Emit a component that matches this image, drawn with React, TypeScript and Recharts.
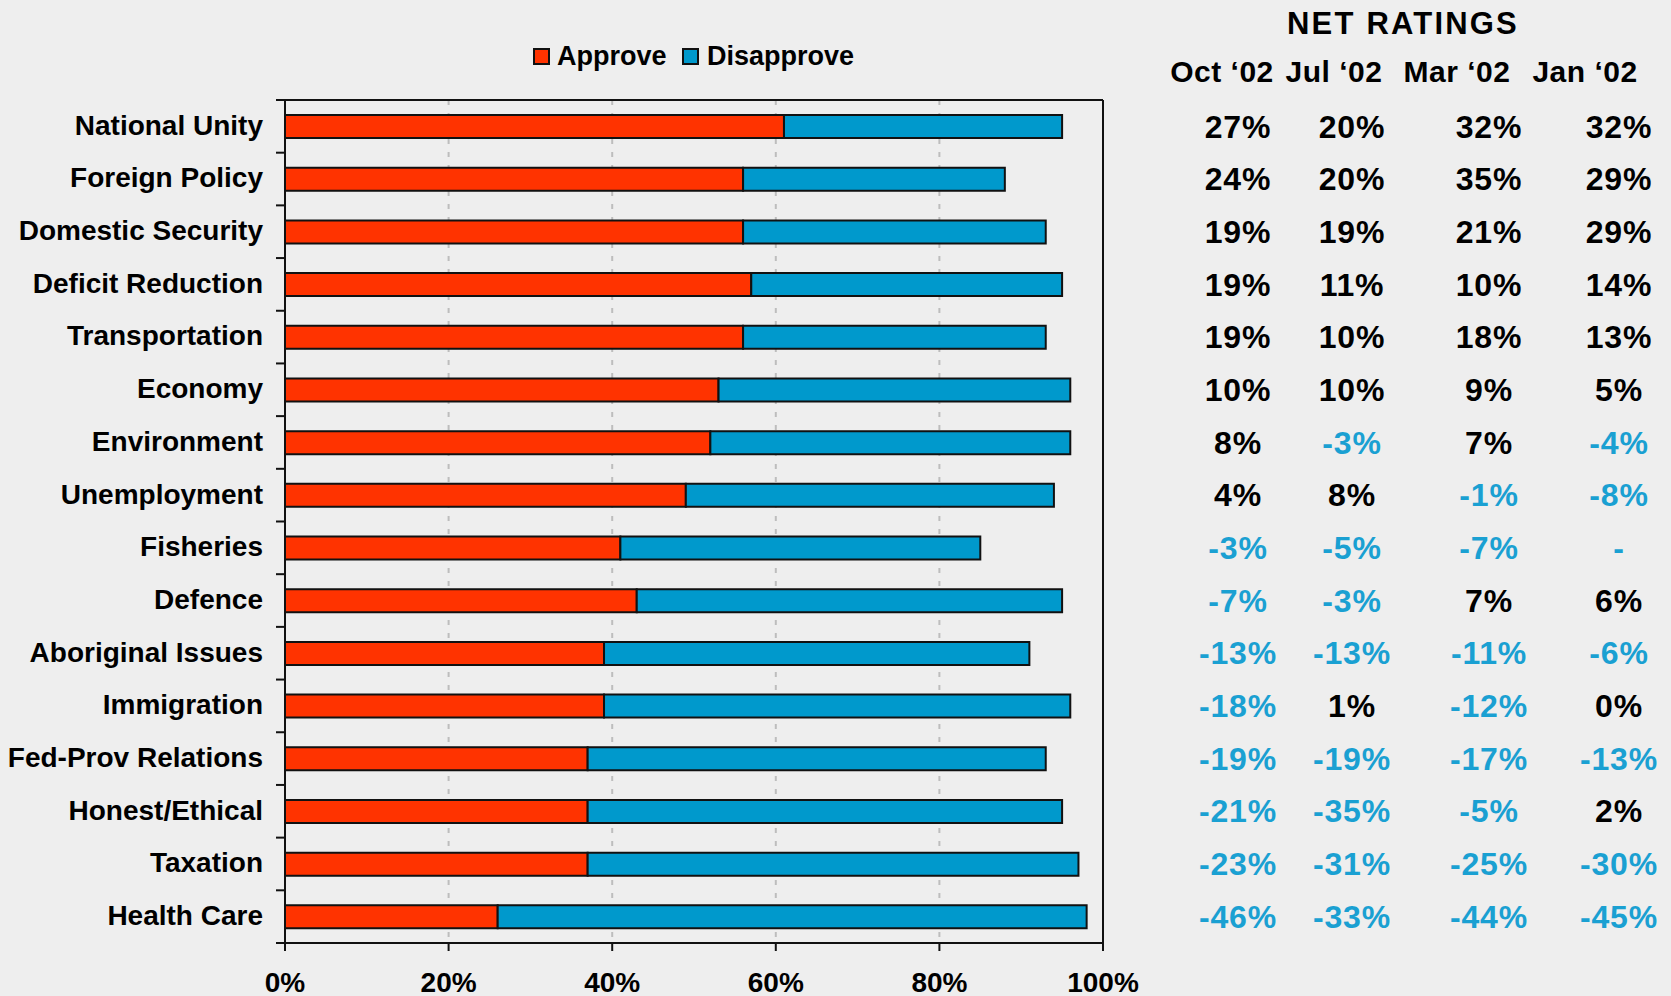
import React from "react";
import { BarChart, Bar, XAxis, YAxis, CartesianGrid, ReferenceLine } from "recharts";

const categories = [
  "National Unity", "Foreign Policy", "Domestic Security", "Deficit Reduction",
  "Transportation", "Economy", "Environment", "Unemployment", "Fisheries", "Defence",
  "Aboriginal Issues", "Immigration", "Fed-Prov Relations", "Honest/Ethical", "Taxation", "Health Care",
];
const approve = [61, 56, 56, 57, 56, 53, 52, 49, 41, 43, 39, 39, 37, 37, 37, 26];
const disapprove = [34, 32, 37, 38, 37, 43, 44, 45, 44, 52, 52, 57, 56, 58, 60, 72];

// net ratings table (null = no reading)
const netMonths = ["Oct \u201802", "Jul \u201802", "Mar \u201802", "Jan \u201802"];
const netOct = [27, 24, 19, 19, 19, 10, 8, 4, -3, -7, -13, -18, -19, -21, -23, -46];
const netJul = [20, 20, 19, 11, 10, 10, -3, 8, -5, -3, -13, 1, -19, -35, -31, -33];
const netMar = [32, 35, 21, 10, 18, 9, 7, -1, -7, 7, -11, -12, -17, -5, -25, -44];
const netJan = [32, 29, 29, 14, 13, 5, -4, -8, null, 6, -6, 0, -13, 2, -30, -45];
const netCols = [netOct, netJul, netMar, netJan];

const xTicks = [0, 20, 40, 60, 80, 100];
const seriesNames = ["Approve", "Disapprove"];

const RED = "#ff3300";
const BLUE = "#0099cc";
const NEG = "#1aa0d2";
const FONT = "'Liberation Sans', Arial, Helvetica, sans-serif";

const W = 1671;
const H = 996;
const TOP = 100;
const XAXIS_H = 53;
const PLOT_H = H - TOP - XAXIS_H;

const data = categories.map((name, i) => ({ name, approve: approve[i], disapprove: disapprove[i] }));

function CatTick(props: any) {
  const { x, y, payload, index } = props;
  const half = payload && payload.offset > 0 ? payload.offset : PLOT_H / categories.length / 2;
  const axisX = x + 22;
  return (
    <g>
      <text x={x} y={y} dy="0.3em" textAnchor="end" fontSize={28} fontWeight="bold" fill="#000" fontFamily={FONT}>
        {payload.value}
      </text>
      <line x1={axisX - 9} x2={axisX} y1={y - half} y2={y - half} stroke="#111" strokeWidth={2} />
      {index === categories.length - 1 && (
        <line x1={axisX - 9} x2={axisX} y1={y + half} y2={y + half} stroke="#111" strokeWidth={2} />
      )}
    </g>
  );
}

const colOffsets = [135, 249, 386, 516];

function NetTick(props: any) {
  const { x, y, index } = props;
  return (
    <g>
      {netCols.map((col, c) => {
        const v = col[index];
        const label = v === null ? "-" : `${v}%`;
        const color = v === null || v < 0 ? NEG : "#000";
        return (
          <text key={c} x={x + colOffsets[c]} y={y} dy="0.35em" textAnchor="middle" fontSize={32}
            fontWeight="bold" letterSpacing={0.8} fill={color} fontFamily={FONT}>
            {label}
          </text>
        );
      })}
    </g>
  );
}

export default function App() {
  return (
    <div style={{ position: "absolute", left: 0, top: 0, width: W, height: H, background: "#eeeeee", overflow: "hidden" }}>
      <BarChart
        width={W}
        height={H}
        layout="vertical"
        data={data}
        margin={{ top: TOP - 1, right: 0, bottom: 0, left: 0 }}
        barSize={23}
        style={{ position: "absolute", left: 0, top: 0 }}
      >
        <CartesianGrid yAxisId="cat" horizontal={false} stroke="#bdbdbd" strokeWidth={2} strokeDasharray="5 8" />
        <XAxis
          type="number"
          domain={[0, 100]}
          ticks={xTicks}
          tickFormatter={(v: number) => `${v}%`}
          height={XAXIS_H}
          tickSize={8}
          tickMargin={21}
          interval={0}
          axisLine={{ stroke: "#111", strokeWidth: 2 }}
          tickLine={{ stroke: "#111", strokeWidth: 2 }}
          tick={{ fontSize: 28, fontWeight: "bold", fill: "#000", fontFamily: FONT }}
        />
        <XAxis xAxisId="top" orientation="top" type="number" domain={[0, 100]} height={1}
          ticks={[]} tickLine={false} tick={false} axisLine={{ stroke: "#111", strokeWidth: 2 }} />
        <YAxis
          yAxisId="cat"
          type="category"
          dataKey="name"
          width={285}
          interval={0}
          tickSize={9}
          tickMargin={13}
          tickLine={false}
          axisLine={{ stroke: "#111", strokeWidth: 2 }}
          tick={<CatTick />}
        />
        <YAxis
          yAxisId="net"
          orientation="right"
          type="category"
          dataKey="name"
          width={W - 1103}
          interval={0}
          tickSize={0}
          tickMargin={0}
          tickLine={false}
          axisLine={false}
          tick={<NetTick />}
        />
        <ReferenceLine yAxisId="cat" x={100} stroke="#111" strokeWidth={2} />
        <Bar yAxisId="cat" dataKey="approve" name={seriesNames[0]} stackId="a" fill={RED} stroke="#111" strokeWidth={2} isAnimationActive={false} />
        <Bar yAxisId="cat" dataKey="disapprove" name={seriesNames[1]} stackId="a" fill={BLUE} stroke="#111" strokeWidth={2} isAnimationActive={false} />
      </BarChart>

      <svg width={W} height={H} style={{ position: "absolute", left: 0, top: 0, pointerEvents: "none" }} fontFamily={FONT}>
        {/* legend */}
        <rect x={534} y={49} width={15} height={15} fill={RED} stroke="#111" strokeWidth={2} />
        <text x={557} y={65} fontSize={27} fontWeight="bold" fill="#000">{seriesNames[0]}</text>
        <rect x={683} y={49} width={15} height={15} fill={BLUE} stroke="#111" strokeWidth={2} />
        <text x={707} y={65} fontSize={27} fontWeight="bold" fill="#000">{seriesNames[1]}</text>

        {/* net ratings header */}
        <text x={1403} y={34} textAnchor="middle" fontSize={31} fontWeight="bold" letterSpacing={2.2} fill="#000">NET RATINGS</text>
        {netMonths.map((m, i) => (
          <text key={m} x={[1222, 1334, 1457, 1585][i]} y={82} textAnchor="middle" fontSize={30} fontWeight="bold" letterSpacing={0.5} fill="#000">
            {m}
          </text>
        ))}
      </svg>
    </div>
  );
}
